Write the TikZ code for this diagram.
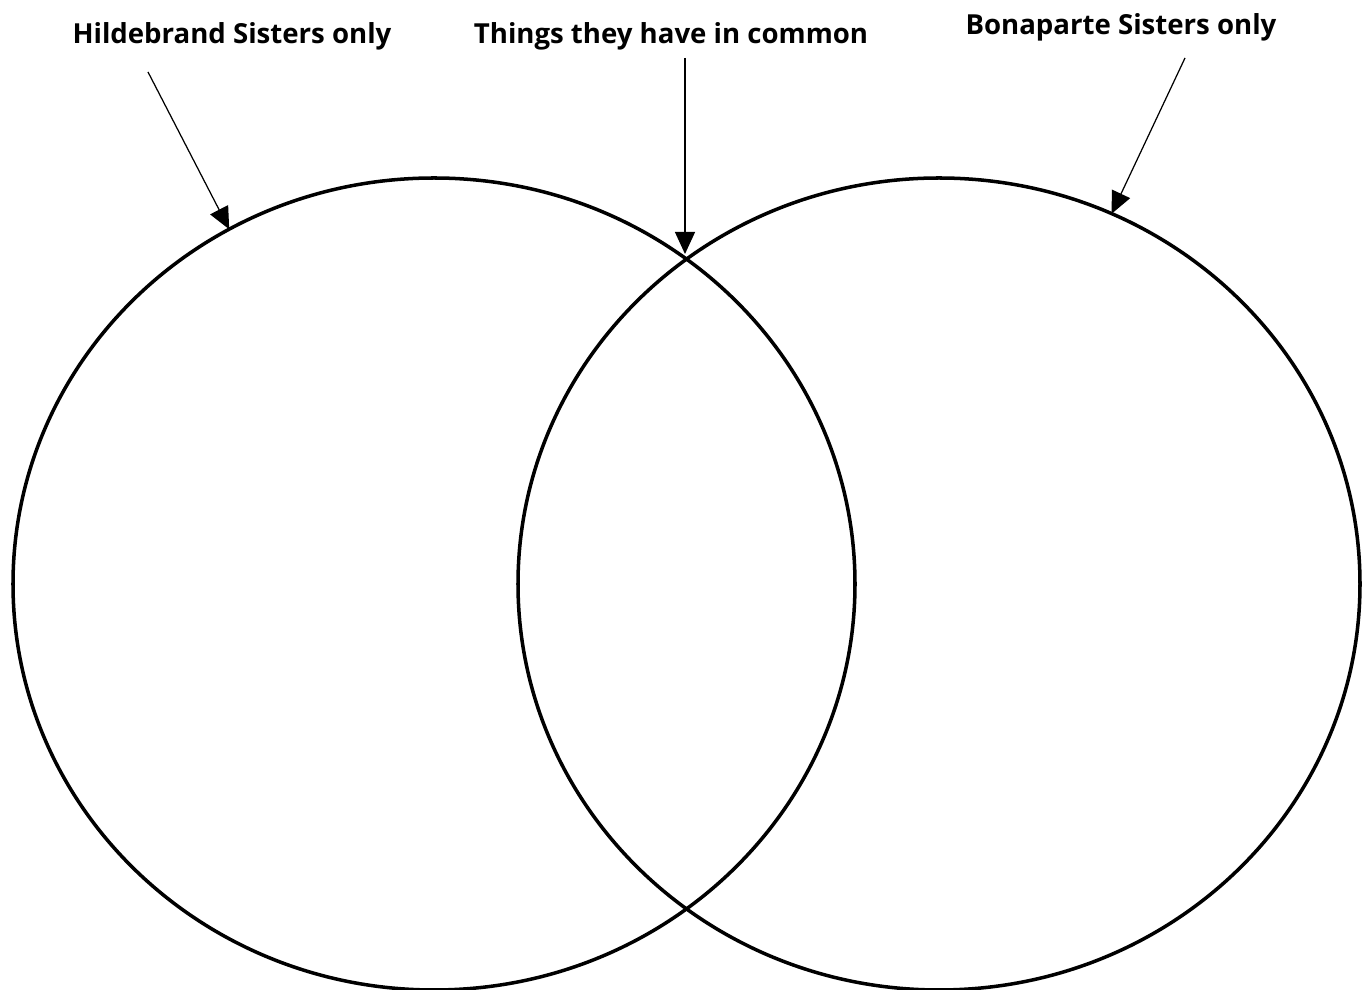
\documentclass[tikz,border=0pt]{standalone}
\usepackage{fontspec}
\setmainfont{Open Sans}
\usetikzlibrary{arrows.meta, shapes.geometric}
\tikzset{
  every picture/.style={font=\bfseries\fontsize{15.7}{18}\selectfont},
  setbox/.style={draw, ellipse, line width=2pt, minimum width=16.84cm, minimum height=16.24cm, inner sep=0pt, outer sep=0pt},
  pointer/.style={-{Triangle[length=4.4mm, width=4mm]}, line width=0.7pt},
  heading/.style={inner sep=2pt},
}
\begin{document}
\begin{tikzpicture}
  \useasboundingbox (0,0) rectangle (27.38,19.8);
  % the two sets
  \node[setbox] (hild) at (8.68,8.12) {};
  \node[setbox] (bona) at (18.78,8.12) {};
  % headings
  \node[heading] (hlab) at (4.64,19.08) {Hildebrand Sisters only};
  \node[heading] (clab) at (13.42,19.08) {Things they have in common};
  \node[heading] (blab) at (22.42,19.26) {Bonaparte Sisters only};
  \coordinate (hfrom) at (2.96,18.36);
  \coordinate (cfrom) at (13.7,18.64);
  \coordinate (bfrom) at (23.7,18.64);
  \coordinate (meet) at (13.7,14.72);
  % pointers
  \draw[pointer] (hfrom) -- (hild.120.6);
  \draw[pointer] (cfrom) -- (meet);
  \draw[pointer] (bfrom) -- (bona.65.3);
\end{tikzpicture}
\end{document}
